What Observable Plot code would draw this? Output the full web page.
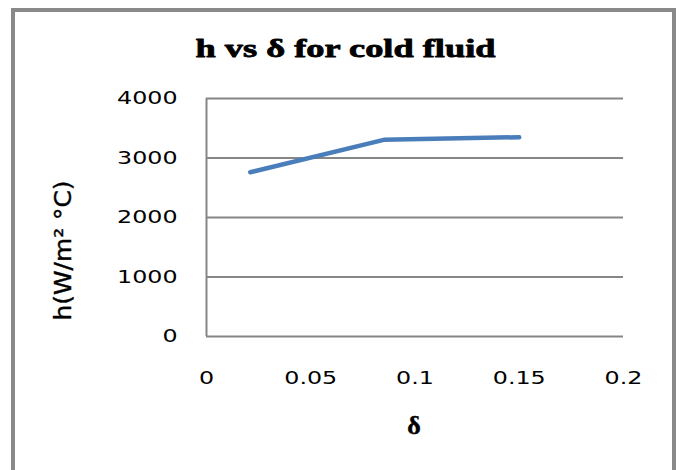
<!DOCTYPE html>
<html><head><meta charset="utf-8">
<script src="https://cdn.jsdelivr.net/npm/d3@7"></script>
<script src="https://cdn.jsdelivr.net/npm/@observablehq/plot@0.6"></script>
<style>
html,body{margin:0;padding:0;background:#fff;width:679px;height:470px;overflow:hidden;}
#frame{position:absolute;left:11px;top:8px;width:665px;height:480px;border:4px solid #898989;border-bottom:none;box-sizing:border-box;}
#chart{position:absolute;left:0;top:0;}
</style></head><body>
<div id="frame"></div><div id="chart"></div>
<script>
const delta = [0.021, 0.085, 0.15];
const h = [2760, 3305, 3350];
const xTicks = [0, 0.05, 0.1, 0.15, 0.2];
const xTickLabels = ["0", "0.05", "0.1", "0.15", "0.2"];
const yTicks = [0, 1000, 2000, 3000, 4000];
const title = "h vs δ for cold fluid";
const xLabel = "δ";
const yLabel = "h(W/m² °C)";

const data = delta.map((d, i) => ({delta: d, h: h[i]}));
const gridColor = "#868686";

const svg = Plot.plot({
  width: 679, height: 470,
  marginLeft: 206, marginRight: 56, marginTop: 98, marginBottom: 134,
  style: {fontFamily: "DejaVu Sans", fontSize: "18px", color: "#000", background: "transparent"},
  x: {domain: [0, 0.2], ticks: xTicks, tickFormat: d => xTickLabels[xTicks.indexOf(d)], tickSize: 0, tickPadding: 35, label: null},
  y: {domain: [0, 4000], ticks: yTicks, tickFormat: d => String(d), tickSize: 0, tickPadding: 29, label: null},
  marks: [
    Plot.ruleY(yTicks, {stroke: gridColor, strokeWidth: 2}),
    Plot.ruleX([0], {stroke: gridColor, strokeWidth: 2}),
    Plot.line(data, {x: "delta", y: "h", stroke: "#4a7ebb", strokeWidth: 4.5, strokeLinecap: "round", strokeLinejoin: "round"}),
    Plot.text([title], {frameAnchor: "top", textAnchor: "middle", dx: -69.5, dy: -50, lineAnchor: "middle", fontFamily: "Liberation Serif", fontWeight: "bold", fontSize: 26, fill: "#000", stroke: "#000", strokeWidth: 0.8}),
    Plot.text([xLabel], {frameAnchor: "bottom", textAnchor: "middle", dx: -1, dy: 89, lineAnchor: "middle", fontFamily: "Liberation Serif", fontWeight: "bold", fontSize: 26, fill: "#000", stroke: "#000", strokeWidth: 0.5}),
    Plot.text([yLabel], {frameAnchor: "left", textAnchor: "middle", rotate: -90, dx: -143, dy: 33, lineAnchor: "middle", fontFamily: "DejaVu Sans", fontSize: 23, fill: "#000", stroke: "#000", strokeWidth: 0.4})
  ]
});
document.getElementById("chart").appendChild(svg);

function stretch(t, k, target) {
  const w = t.getComputedTextLength();
  t.setAttribute("textLength", target != null ? target : w * k);
  t.setAttribute("lengthAdjust", "spacingAndGlyphs");
}
svg.querySelectorAll('g[aria-label^="x-axis"] text, g[aria-label^="y-axis"] text').forEach(t => stretch(t, 1.32));
svg.querySelectorAll("text").forEach(t => {
  if (t.textContent === title) stretch(t, 1, 300);
  if (t.textContent === yLabel) stretch(t, 1, 140);
});
</script>
</body></html>
